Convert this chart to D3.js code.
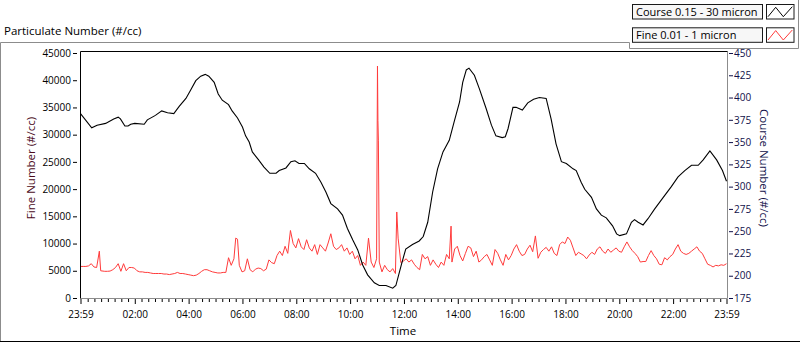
<!DOCTYPE html>
<html>
<head>
<meta charset="utf-8">
<script src="https://cdn.jsdelivr.net/npm/d3@7"></script>
<style>
body{margin:0;background:#fff;}
svg text{font-family:"Open Sans",sans-serif;}
</style>
</head>
<body>
<svg width="800" height="342"></svg>
<script>
// minutes after 23:59, value (#/cc)
const courseSeries = [
  [0,382],[25,366],[37,369],[56,371],[74,376],[84,378],[89,376],[99,368],[106,368],[112,370],
  [121,371],[142,370],[149,375],[167,380],[181,385],[194,383],[208,382],[220,390],[235,399],[245,408],
  [257,419],[268,424],[278,426],[286,424],[298,417],[307,404],[316,397],[330,392],[338,385],[350,377],
  [361,367],[368,357],[376,350],[383,339],[397,330],[409,322],[422,315],[436,315],[443,318],[458,321],
  [469,328],[478,329],[487,326],[499,326],[510,320],[524,315],[536,305],[547,294],[558,281],[573,275],
  [584,268],[595,253],[607,240],[618,229],[629,212],[640,201],[655,192],[666,189],[681,189],[696,186],
  [703,189],[715,212],[725,230],[740,235],[755,239],[764,244],[774,260],[785,294],[796,320],[808,339],
  [822,352],[833,373],[845,395],[852,417],[860,431],[866,433],[878,425],[889,410],[904,388],[916,369],
  [926,357],[940,355],[947,356],[953,365],[964,389],[971,389],[985,386],[997,394],[1010,398],[1023,400],
  [1038,399],[1049,376],[1060,348],[1072,328],[1083,326],[1098,320],[1105,318],[1116,305],[1124,297],[1139,288],
  [1150,275],[1161,268],[1172,265],[1186,256],[1195,247],[1202,245],[1217,247],[1228,260],[1235,263],[1243,260],
  [1254,257],[1265,264],[1280,275],[1299,288],[1317,300],[1332,311],[1347,318],[1362,324],[1377,324],[1388,330],
  [1403,340],[1418,330],[1431,318],[1440,306]
];

const fineSeries = [
  [0,5800],[6,5800],[12,5800],[18,5900],[24,6300],[30,5700],[36,5600],[42,8600],[45,5000],[54,4900],
  [60,4900],[66,4950],[72,5200],[78,5600],[84,6300],[90,4900],[96,6300],[102,5000],[108,5600],[114,5600],
  [120,5500],[126,5000],[132,4800],[138,4800],[144,4700],[150,4700],[156,4600],[162,4500],[168,4500],[174,4500],
  [180,4500],[186,4400],[192,4400],[198,4300],[204,4400],[210,4500],[216,4700],[222,4500],[228,4500],[234,4400],
  [240,4300],[246,4200],[252,4100],[258,4200],[264,4500],[270,4900],[276,5200],[282,5200],[288,5000],[294,4800],
  [300,4700],[306,4600],[312,4600],[318,4700],[324,4700],[330,7400],[336,6000],[342,7200],[346,11000],[350,10800],
  [354,6000],[360,4800],[366,5000],[372,7200],[378,5200],[384,4800],[390,5300],[396,5500],[402,5400],[408,5000],
  [414,5300],[420,7000],[426,6500],[432,6300],[438,7800],[444,8600],[450,7800],[456,9500],[462,8200],[468,12400],
  [474,10000],[480,9200],[486,10900],[492,9400],[498,8900],[504,10700],[510,9200],[516,8600],[522,9800],[528,8000],
  [534,9800],[540,9200],[546,8600],[552,10100],[558,11800],[564,9500],[570,8900],[576,9200],[582,9800],[588,8600],
  [594,9200],[600,8000],[606,8600],[612,7200],[618,7800],[624,6000],[630,6600],[636,6000],[642,11000],[648,6600],
  [654,5600],[660,7200],[662,42600],[663,32600],[664,29000],[666,6600],[672,4800],[678,6000],[684,5200],[690,4800],
  [696,5400],[702,4500],[705,15800],[708,11000],[714,6500],[720,6800],[726,7200],[732,6600],[738,7000],[744,6200],
  [750,5600],[756,5200],[762,8000],[768,7200],[774,7600],[780,6000],[786,7000],[792,6200],[798,5600],[804,6600],
  [810,6000],[816,8000],[822,7200],[826,13200],[828,6600],[834,9000],[840,9500],[846,7800],[852,6800],[858,8200],
  [864,9500],[870,9200],[876,7600],[882,8600],[888,6600],[894,7000],[900,7600],[906,8000],[912,7000],[918,6000],
  [924,8900],[930,8200],[936,7000],[942,6000],[948,8000],[954,7000],[960,7800],[966,9000],[972,9800],[978,8600],
  [984,7800],[990,8000],[996,9000],[1002,9700],[1008,8500],[1014,11400],[1020,7300],[1026,8400],[1032,8900],[1038,9300],
  [1044,8600],[1050,9400],[1056,8200],[1062,7800],[1068,9800],[1074,10300],[1080,10000],[1086,11200],[1092,10600],[1098,9200],
  [1104,7800],[1110,8400],[1116,8100],[1122,7800],[1128,7200],[1134,7900],[1140,8400],[1146,8000],[1152,9000],[1158,9400],
  [1164,8600],[1170,8200],[1176,9000],[1182,8400],[1188,8800],[1194,9200],[1200,8600],[1206,8400],[1212,9400],[1218,10300],
  [1224,9400],[1230,8700],[1236,8200],[1242,7600],[1248,6600],[1254,6700],[1260,6700],[1266,7800],[1272,8700],[1278,7800],
  [1284,7200],[1290,6200],[1296,6100],[1302,7400],[1308,7000],[1314,7600],[1320,8000],[1326,9000],[1332,9800],[1338,8600],
  [1344,8200],[1350,8000],[1356,8200],[1362,8600],[1368,9000],[1374,9400],[1380,8600],[1386,8200],[1392,7200],[1398,6200],
  [1404,6000],[1410,5700],[1416,6000],[1422,5900],[1428,6100],[1434,6000],[1440,6300]
];

const fineTicks = [0,5000,10000,15000,20000,25000,30000,35000,40000,45000];
const courseTicks = [175,200,225,250,275,300,325,350,375,400,425,450];
const timeLabels = ["23:59","02:00","04:00","06:00","08:00","10:00","12:00","14:00","16:00","18:00","20:00","22:00","23:59"];
const timeLabelMinutes = [0,121,241,361,481,601,721,841,961,1081,1201,1321,1440];
const legendNames = ["Course 0.15 - 30 micron","Fine 0.01 - 1 micron"];
const legendColors = ["#000000","#ff3b3b"];

const svg = d3.select('svg');

// plot box
const pLeft = 80.5, pRight = 727.5, pTop = 51.5, pBottom = 298.5;

const x = d3.scaleLinear().domain([0,1440]).range([pLeft, 726.5]);
const yFine = d3.scaleLinear().domain([0,45000]).range([298, 53]);
const yCourse = d3.scaleLinear().domain([175,450]).range([298, 53]);

// outer panel lines
svg.append('path').attr('d','M 0.5 342 L 0.5 42.5 L 629.5 42.5 L 629.5 48.5 L 798.5 48.5 L 798.5 0')
  .attr('fill','none').attr('stroke','#8c8c8c');
svg.append('line').attr('x1',0).attr('x2',800).attr('y1',341.5).attr('y2',341.5).attr('stroke','#000');

svg.append('text').attr('x',4).attr('y',35).attr('font-size','11.5px').attr('fill','#000')
  .text('Particulate Number (#/cc)');

// plot background
svg.append('rect').attr('x',pLeft).attr('y',pTop).attr('width',pRight-pLeft).attr('height',pBottom-pTop).attr('fill','#fff');

// lines
const plot = svg.append('g');
plot.append('path').datum(fineSeries)
  .attr('d', d3.line().x(d => x(d[0])).y(d => yFine(d[1])))
  .attr('fill','none').attr('stroke',legendColors[1]).attr('stroke-width',1);
plot.append('path').datum(courseSeries)
  .attr('d', d3.line().x(d => x(d[0])).y(d => yCourse(d[1])))
  .attr('fill','none').attr('stroke',legendColors[0]).attr('stroke-width',1.1);

svg.append('path').attr('d',`M ${pLeft} ${pBottom} L ${pRight} ${pBottom} L ${pRight} ${pTop}`)
  .attr('fill','none').attr('stroke','#8c8c8c');
svg.append('path').attr('d',`M ${pLeft} ${pBottom} L ${pLeft} ${pTop} L ${pRight} ${pTop}`)
  .attr('fill','none').attr('stroke','#000');

// left axis
const gl = svg.append('g').attr('transform','translate(77,0)')
  .call(d3.axisLeft(yFine).tickValues(fineTicks).tickSize(4).tickPadding(2).tickFormat(d3.format('d')));
gl.select('.domain').remove();
gl.selectAll('text').attr('font-size','10px').attr('fill','#000').attr('font-family','"Open Sans",sans-serif');
gl.selectAll('line').attr('stroke','#000');

// right axis
const gr = svg.append('g').attr('transform','translate(729,0)')
  .call(d3.axisRight(yCourse).tickValues(courseTicks).tickSize(4).tickPadding(1));
gr.select('.domain').remove();
gr.selectAll('text').attr('font-size','10px').attr('fill','#10104a').attr('font-family','"Open Sans",sans-serif');
gr.selectAll('line').attr('stroke','#10104a');

// bottom axis: minor ticks every 15 min, major every 2 h
const minorTicks = d3.range(1, 1440, 15).filter(m => (m - 1) % 120 !== 0);
const gm = svg.append('g').attr('transform',`translate(0,${pBottom+0.5})`)
  .call(d3.axisBottom(x).tickValues(minorTicks).tickSize(3).tickFormat(''));
gm.select('.domain').remove();
gm.selectAll('line').attr('stroke','#000');

const gb = svg.append('g').attr('transform',`translate(0,${pBottom+0.5})`)
  .call(d3.axisBottom(x).tickValues(timeLabelMinutes).tickSize(5).tickPadding(7)
    .tickFormat((d,i) => timeLabels[i]));
gb.select('.domain').remove();
gb.selectAll('text').attr('font-size','10px').attr('fill','#000').attr('font-family','"Open Sans",sans-serif');
gb.selectAll('line').attr('stroke','#000');

// axis titles
svg.append('text').attr('x',403).attr('y',335).attr('text-anchor','middle')
  .attr('font-size','11.5px').attr('fill','#000').text('Time');
svg.append('text').attr('transform','translate(35,168) rotate(-90)').attr('text-anchor','middle')
  .attr('font-size','11.5px').attr('fill','#4a0a1a').text('Fine Number (#/cc)');
svg.append('text').attr('transform','translate(760,168) rotate(90)').attr('text-anchor','middle')
  .attr('font-size','11.5px').attr('fill','#10104a').text('Course Number (#/cc)');

// legend
const lg = svg.append('g');
legendNames.forEach((name, i) => {
  const y0 = 4 + i * 23.3;
  lg.append('rect').attr('x',632.5).attr('y',y0+0.5).attr('width',130).attr('height',14.5)
    .attr('fill','#f7f7f7').attr('stroke','#1a1a1a');
  lg.append('text').attr('x',636).attr('y',y0+11.5).attr('font-size','11px').attr('fill','#000').text(name);
  lg.append('rect').attr('x',766.5).attr('y',y0+0.5).attr('width',27.5).attr('height',14.5)
    .attr('fill','#fff').attr('stroke','#1a1a1a');
  lg.append('polyline')
    .attr('points',`768,${y0+12.7} 775.7,${y0+3.3} 783.3,${y0+12.7} 792.3,${y0+2.7}`)
    .attr('fill','none').attr('stroke',legendColors[i]).attr('stroke-width',1);
});
</script>
</body>
</html>
